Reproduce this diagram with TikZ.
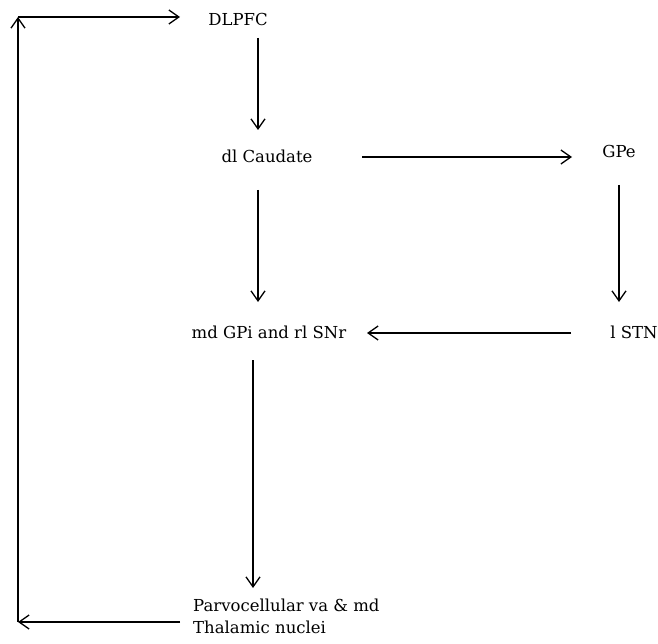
\documentclass[tikz,border=0pt]{standalone}
\usepackage{fontspec}
\setmainfont{DejaVu Serif}
\usetikzlibrary{arrows.meta,calc}
\begin{document}
\begin{tikzpicture}[x=1pt,y=-1pt,
 lbl/.style={inner sep=0pt,anchor=base,font=\fontsize{16.5}{22}\selectfont},
 arr/.style={line width=1.3pt,-{Straight Barb[length=10pt,width=14pt,line width=1.3pt]}}]
\useasboundingbox (0,0) rectangle (658,644);
\node[lbl] (dlpfc) at (238,26) {DLPFC};
\node[lbl] (dlc) at (267,163) {dl Caudate};
\node[lbl] (gpe) at (619,158) {GPe};
\node[lbl] (stn) at (634,338) {l STN};
\node[lbl] (gpi) at (269,338) {md GPi and rl SNr};
\node[lbl,anchor=base west,align=left] (thal) at (193,633) {Parvocellular va \& md\\Thalamic nuclei};
\coordinate (bl) at (18,622);
\coordinate (tl) at (18,17);
\draw[arr] ($(dlpfc.base)+(20,12)$) -- ($(dlc.base)+(-9,-33)$);
\draw[arr] ($(dlc.base)+(95,-6)$) -- ($(gpe.base)+(-47,-1)$);
\draw[arr] ($(gpe.base)+(0,27)$) -- ($(stn.base)+(-15,-36)$);
\draw[arr] ($(stn.base)+(-63,-5)$) -- ($(gpi.base)+(98,-5)$);
\draw[arr] ($(dlc.base)+(-9,27)$) -- ($(gpi.base)+(-11,-36)$);
\draw[arr] ($(gpi.base)+(-16,22)$) -- ($(thal.base west)+(60,-45)$);
\draw[arr] ($(thal.base west)+(-13,-11)$) -- (bl);
\draw[arr] (bl) -- (tl);
\draw[arr] (tl) -- ($(dlpfc.base)+(-58,-9)$);
\end{tikzpicture}
\end{document}
